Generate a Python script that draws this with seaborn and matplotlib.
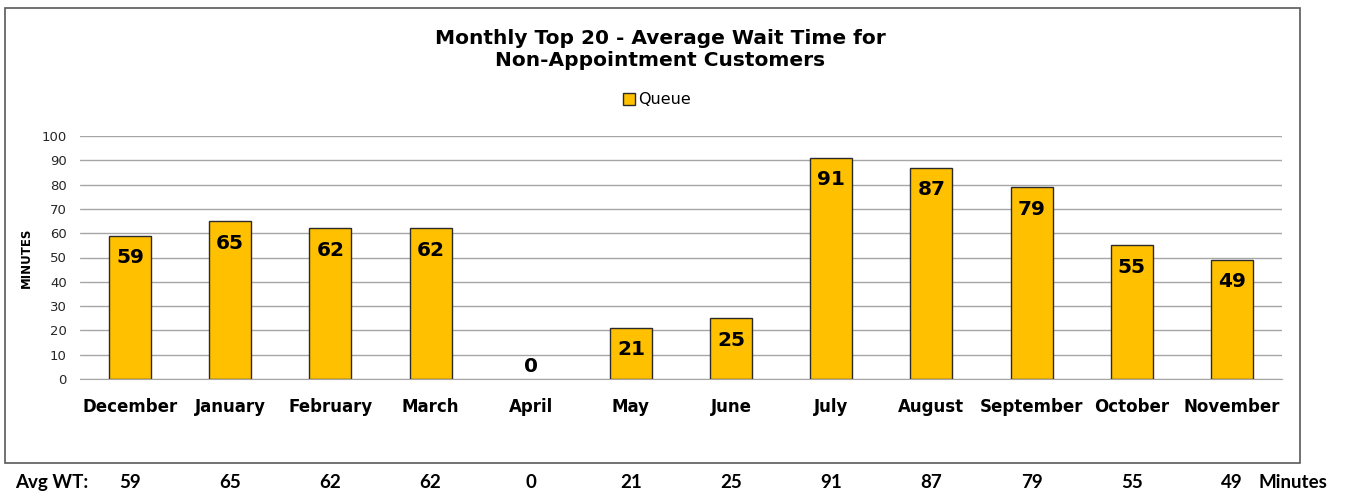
import matplotlib
matplotlib.use("Agg")
import matplotlib.pyplot as plt
import seaborn as sns
import pandas as pd
from matplotlib.patches import Rectangle

months = ["December", "January", "February", "March", "April", "May",
          "June", "July", "August", "September", "October", "November"]
wait_minutes = [59, 65, 62, 62, 0, 21, 25, 91, 87, 79, 55, 49]
series_name = "Queue"

df = pd.DataFrame({"Month": months, "Minutes": wait_minutes, "Series": series_name})

sns.set_style("white")
plt.rcParams["font.family"] = ["DejaVu Sans"]
plt.rcParams["text.color"] = "black"

fig = plt.figure(figsize=(13.46, 4.94), dpi=100)
ax = fig.add_axes([80 / 1346, 1 - 379 / 494, 1202 / 1346, 243 / 494])

sns.barplot(data=df, x="Month", y="Minutes", hue="Series",
            palette=["#FFC000"], saturation=1, width=0.42, edgecolor="#2b2b2b",
            linewidth=1.0, ax=ax, legend=True)

# hide the outline of zero-height bars
for patch in ax.patches:
    if patch.get_height() == 0:
        patch.set_edgecolor("none")

ax.set_ylim(0, 100)
ax.set_yticks(range(0, 101, 10))
ax.set_xlim(-0.5, len(months) - 0.5)
ax.yaxis.grid(True, color="#a6a6a6", linewidth=1)
ax.set_axisbelow(True)
for side in ["top", "right", "left"]:
    ax.spines[side].set_visible(False)
ax.spines["bottom"].set_color("#a6a6a6")
ax.tick_params(axis="y", labelsize=9.5, colors="#262626", length=0, pad=9.5)
ax.tick_params(axis="x", length=0, pad=14, colors="black")
for lbl in ax.get_xticklabels():
    lbl.set_fontweight("bold")
    lbl.set_fontsize(12)
ax.set_xlabel("")
ax.set_ylabel("MINUTES", fontsize=8.5, fontweight="bold", labelpad=6,
              color="black")

# data labels near the top of each bar
for i, v in enumerate(wait_minutes):
    offset = -22 if v > 10 else 12
    ax.annotate(str(v), (i, v), xytext=(0, offset), textcoords="offset pixels",
                ha="center", va="center", fontsize=14.5, fontweight="bold",
                color="black")

# legend
leg = ax.legend(loc="center", bbox_to_anchor=(657 / 1346, 1 - 100 / 494),
                bbox_transform=fig.transFigure, frameon=False, fontsize=11.5,
                handlelength=0.75, handleheight=0.75, handletextpad=0.2)
for h in leg.legend_handles:
    h.set_edgecolor("#2b2b2b")
    h.set_linewidth(1.0)

# title
fig.text(660 / 1346, 1 - 50 / 494,
         "Monthly Top 20 - Average Wait Time for\nNon-Appointment Customers",
         ha="center", va="center", fontsize=14.5, fontweight="bold",
         linespacing=1.2)

# chart border
fig.patches.append(Rectangle((5 / 1346, 1 - 463 / 494), 1295 / 1346, 455 / 494,
                             transform=fig.transFigure, fill=False,
                             edgecolor="#595959", linewidth=1.2))

# bottom summary row
row_font = ["Lato", "DejaVu Sans"]
fig.text(15 / 1346, 1 - 482 / 494, "Avg WT:", ha="left", va="center",
         fontsize=13.5, fontweight="bold", family=row_font)
for i, v in enumerate(wait_minutes):
    x_fig = fig.transFigure.inverted().transform(ax.transData.transform((i, 0)))[0]
    fig.text(x_fig, 1 - 482 / 494, str(v), ha="center", va="center",
             fontsize=13.5, fontweight="bold", family=row_font)
fig.text(1259 / 1346, 1 - 482 / 494, "Minutes", ha="left", va="center",
         fontsize=13.5, fontweight="bold", family=row_font)

fig.savefig("out.png", dpi=100, facecolor="white")
